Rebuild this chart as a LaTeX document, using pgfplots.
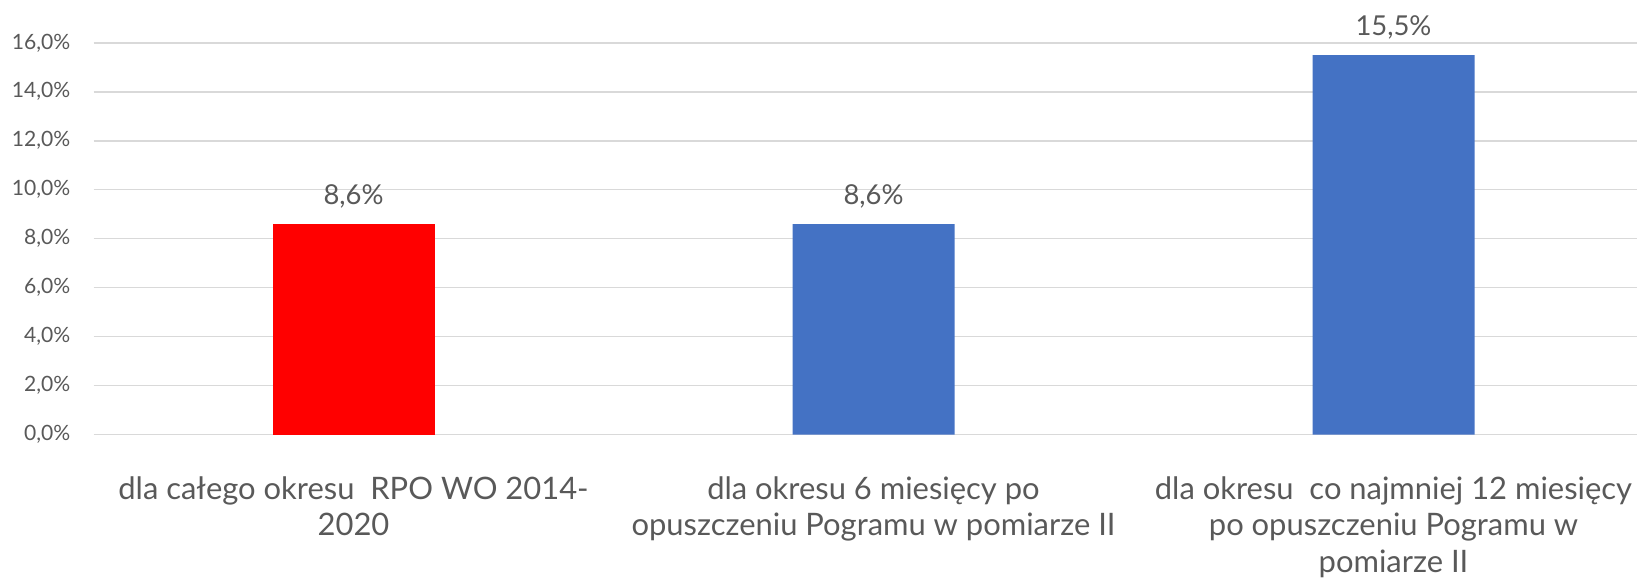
\documentclass[border=0pt]{standalone}
\usepackage{pgfplots}
\pgfplotsset{compat=1.18}
\usepackage{fontspec}
\setmainfont{Lato}
\definecolor{txt}{HTML}{595959}
\definecolor{grid}{HTML}{D9D9D9}
\definecolor{barblue}{HTML}{4472C4}
\definecolor{barred}{HTML}{FF0000}
\begin{document}
\begin{tikzpicture}
\useasboundingbox (0,0) rectangle (163.7mm,57.7mm);
\clip (0,0) rectangle (163.7mm,57.7mm);
\begin{axis}[
  at={(9.35mm,14.24mm)}, anchor=south west,
  scale only axis,
  width=156mm, height=39.18mm,
  xmin=-0.5, xmax=2.5, ymin=0, ymax=16,
  ytick={0,2,...,16},
  xtick={0,1,2},
  xticklabels={{dla całego okresu\ \ RPO WO 2014-\\2020},
               {dla okresu 6 miesięcy po\\opuszczeniu Pogramu w pomiarze II},
               {dla okresu\ \ co najmniej 12 miesięcy\\po opuszczeniu Pogramu w\\pomiarze II}},
  ymajorgrids,
  grid style={draw=grid, line width=0.15mm},
  axis line style={draw=none},
  tick style={draw=none},
  /pgf/number format/assume math mode=true,
  yticklabel={\pgfmathprintnumber[fixed,fixed zerofill,precision=1,use comma]{\tick}\%},
  yticklabel style={font=\fontsize{6}{7}\selectfont, text=txt, inner sep=0pt, anchor=east, xshift=-2.25mm},
  xticklabel style={font=\fontsize{8.8}{10.5}\selectfont, text=txt, align=center, anchor=north, inner sep=0pt, yshift=-2.6mm},
  ybar, bar width=16.2mm,
  nodes near coords={\pgfmathprintnumber[fixed,fixed zerofill,precision=1,use comma]{\pgfplotspointmeta}\%},
  nodes near coords style={font=\fontsize{7.8}{9}\selectfont, text=txt, anchor=center, yshift=2.8mm},
]
\addplot[fill=barred, draw=none, bar shift=0pt] coordinates {(0,8.6)};
\addplot[fill=barblue, draw=none, bar shift=0pt] coordinates {(1,8.6) (2,15.5)};
\end{axis}
\end{tikzpicture}
\end{document}
